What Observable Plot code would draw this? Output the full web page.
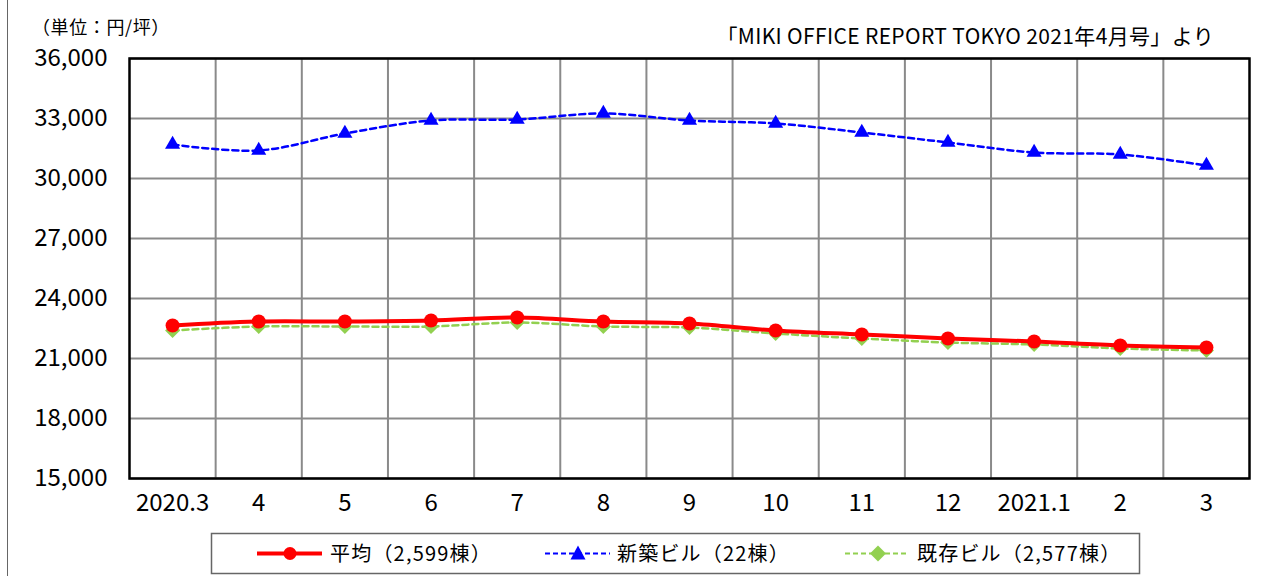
<!DOCTYPE html>
<html><head><meta charset="utf-8">
<script src="https://cdn.jsdelivr.net/npm/d3@7"></script>
<script src="https://cdn.jsdelivr.net/npm/@observablehq/plot@0.6"></script>
<style>
body{margin:0;background:#fff;font-family:"Noto Sans CJK JP","Noto Sans",sans-serif;}
#wrap{position:relative;width:1263px;height:576px;overflow:hidden;background:#fff;}
#wrap svg{position:absolute;left:0;top:0;}
</style></head>
<body><div id="wrap"></div>
<script>
const categories = ["2020.3","4","5","6","7","8","9","10","11","12","2021.1","2","3"];
const avgValues = [22650, 22850, 22850, 22900, 23050, 22850, 22750, 22400, 22200, 22000, 21850, 21650, 21550];
const newValues = [31700, 31400, 32250, 32900, 32950, 33250, 32900, 32750, 32300, 31800, 31300, 31200, 30650];
const existingValues = [22400, 22600, 22600, 22600, 22800, 22600, 22550, 22250, 22000, 21800, 21700, 21500, 21400];
const yTicks = [15000, 18000, 21000, 24000, 27000, 30000, 33000, 36000];
const seriesNames = ["平均（2,599棟）", "新築ビル（22棟）", "既存ビル（2,577棟）"];
const seriesColors = ["#FF0000", "#0000FF", "#92D050"];
const unitLabel = "（単位：円/坪）";
const sourceLabel = "「MIKI OFFICE REPORT TOKYO 2021年4月号」より";

const font = "'Noto Sans CJK JP', 'Noto Sans', sans-serif";
const mk = (vals) => vals.map((v, i) => ({x: i + 0.5, y: v}));
const avg = mk(avgValues), nw = mk(newValues), ex = mk(existingValues);
const curve = "catmull-rom";

const chart = Plot.plot({
  width: 1263, height: 576,
  marginTop: 58, marginLeft: 129, marginRight: 14, marginBottom: 98,
  style: {fontFamily: font, background: "transparent", color: "#000"},
  x: {type: "linear", domain: [0, categories.length], axis: null},
  y: {domain: [15000, 36000], axis: null},
  marks: [
    Plot.ruleY(yTicks, {stroke: "#8a8a8a", strokeWidth: 2}),
    Plot.ruleX(d3.range(1, categories.length), {stroke: "#8a8a8a", strokeWidth: 2}),
    Plot.frame({stroke: "#000", strokeWidth: 2.5}),
    Plot.line(ex, {x: "x", y: "y", stroke: seriesColors[2], strokeWidth: 2.5, strokeDasharray: "6,4", curve}),
    Plot.dot(ex, {x: "x", y: "y", symbol: "square", rotate: 45, r: 6, fill: seriesColors[2], stroke: "none"}),
    Plot.line(avg, {x: "x", y: "y", stroke: seriesColors[0], strokeWidth: 4, curve}),
    Plot.dot(avg, {x: "x", y: "y", symbol: "circle", r: 7, fill: seriesColors[0], stroke: "none"}),
    Plot.line(nw, {x: "x", y: "y", stroke: seriesColors[1], strokeWidth: 2.5, strokeDasharray: "6,4", curve}),
    Plot.dot(nw, {x: "x", y: "y", symbol: "triangle", r: 5.6, fill: seriesColors[1], stroke: "none"}),
    Plot.axisY(yTicks, {tickSize: 0, tickPadding: 22, fontSize: 24, label: null, tickFormat: d => d3.format(",")(d)}),
    Plot.axisX(d3.range(categories.length).map(i => i + 0.5), {tickSize: 0, tickPadding: 15, fontSize: 24, label: null, tickFormat: d => categories[Math.floor(d)]})
  ]
});
const wrap = document.getElementById("wrap");
wrap.appendChild(chart);

// overlay: page edge, unit label, source, legend
const ov = d3.select(wrap).append("svg").attr("width", 1263).attr("height", 576)
  .style("font-family", font).style("pointer-events", "none");
ov.append("line").attr("x1", 7.5).attr("x2", 7.5).attr("y1", 0).attr("y2", 576).attr("stroke", "#666").attr("stroke-width", 1);
ov.append("text").attr("x", 32).attr("y", 34).attr("font-size", 18).attr("letter-spacing", 0.6).text(unitLabel);
ov.append("text").attr("x", 1214).attr("y", 44).attr("text-anchor", "end").attr("font-size", 21)
  .attr("letter-spacing", 0.35).text(sourceLabel);

const lg = ov.append("g");
lg.append("rect").attr("x", 211.5).attr("y", 533.5).attr("width", 928).attr("height", 40)
  .attr("fill", "white").attr("stroke", "#666").attr("stroke-width", 1.5);
const items = [
  {x0: 257, x1: 322, cx: 290, tx: 330, dash: null, w: 4, sym: "circle"},
  {x0: 545, x1: 610, cx: 578, tx: 617, dash: "5,3", w: 2, sym: "triangle"},
  {x0: 845, x1: 909, cx: 878, tx: 917, dash: "5,3", w: 2, sym: "diamond"}
];
const cy = 553.5;
items.forEach((it, i) => {
  const c = seriesColors[i];
  const ln = lg.append("line").attr("x1", it.x0).attr("x2", it.x1).attr("y1", cy).attr("y2", cy)
    .attr("stroke", c).attr("stroke-width", it.w);
  if (it.dash) ln.attr("stroke-dasharray", it.dash);
  if (it.sym === "circle") lg.append("circle").attr("cx", it.cx).attr("cy", cy).attr("r", 6.5).attr("fill", c);
  if (it.sym === "triangle") lg.append("path").attr("d", `M${it.cx},${cy-8} L${it.cx+7.5},${cy+6} L${it.cx-7.5},${cy+6} Z`).attr("fill", c);
  if (it.sym === "diamond") lg.append("path").attr("d", `M${it.cx},${cy-8} L${it.cx+8},${cy} L${it.cx},${cy+8} L${it.cx-8},${cy} Z`).attr("fill", c);
  lg.append("text").attr("x", it.tx).attr("y", cy + 7).attr("font-size", 20).attr("letter-spacing", 1.2).text(seriesNames[i]);
});
</script></body></html>
